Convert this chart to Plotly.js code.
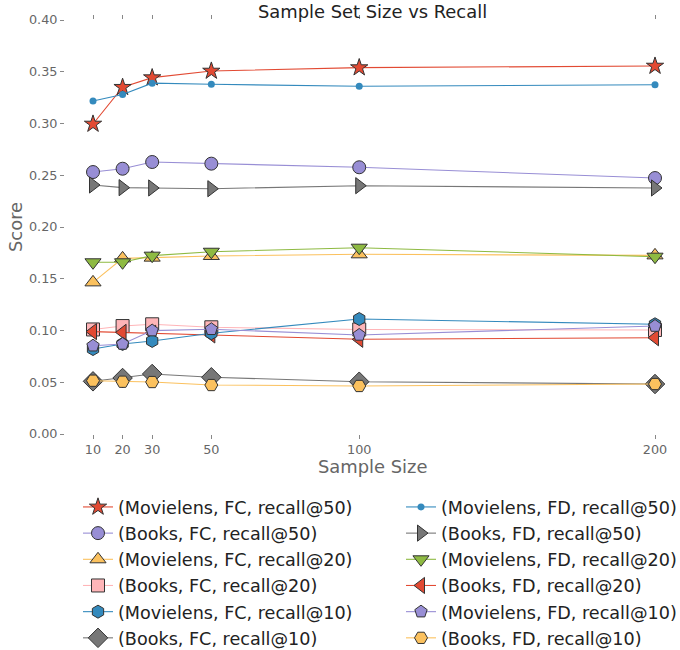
<!DOCTYPE html>
<html><head><meta charset="utf-8">
<script src="https://cdn.plot.ly/plotly-3.0.1.min.js"></script>
<style>body{margin:0;padding:0;background:#fff}#chart{width:680px;height:650px}</style>
</head><body><div id="chart"></div>
<script>
const sampleSizes = [10, 20, 30, 50, 100, 200];
const xTickVals = [10, 20, 30, 50, 100, 200];
const yTickVals = [0, 0.05, 0.10, 0.15, 0.20, 0.25, 0.30, 0.35, 0.40];

const movielensFC50 = [0.2995, 0.335, 0.3443, 0.3507, 0.354, 0.3555];
const movielensFD50 = [0.3217, 0.328, 0.339, 0.3379, 0.336, 0.3375];
const booksFC50 = [0.2531, 0.2563, 0.2628, 0.2612, 0.2577, 0.2473];
const booksFD50 = [0.2406, 0.238, 0.2377, 0.237, 0.2399, 0.2377];
const movielensFC20 = [0.1465, 0.1697, 0.1704, 0.172, 0.1736, 0.1726];
const movielensFD20 = [0.1659, 0.1659, 0.1723, 0.1761, 0.180, 0.1713];
const booksFC20 = [0.101, 0.1043, 0.106, 0.1031, 0.101, 0.1005];
const booksFD20 = [0.0989, 0.0982, 0.0973, 0.0957, 0.0915, 0.093];
const movielensFC10 = [0.0821, 0.087, 0.0899, 0.0973, 0.1111, 0.106];
const movielensFD10 = [0.0853, 0.087, 0.0999, 0.1012, 0.0957, 0.1043];
const booksFC10 = [0.0509, 0.0541, 0.058, 0.0548, 0.0505, 0.0483];
const booksFD10 = [0.0515, 0.0505, 0.0502, 0.0473, 0.0464, 0.0483];

const seriesNames = [
  '(Movielens, FC, recall@50)', '(Movielens, FD, recall@50)',
  '(Books, FC, recall@50)', '(Books, FD, recall@50)',
  '(Movielens, FC, recall@20)', '(Movielens, FD, recall@20)',
  '(Books, FC, recall@20)', '(Books, FD, recall@20)',
  '(Movielens, FC, recall@10)', '(Movielens, FD, recall@10)',
  '(Books, FC, recall@10)', '(Books, FD, recall@10)'
];
const seriesValues = [movielensFC50, movielensFD50, booksFC50, booksFD50,
  movielensFC20, movielensFD20, booksFC20, booksFD20,
  movielensFC10, movielensFD10, booksFC10, booksFD10];

const styles = [
  {c:'#E24A33', s:'star', z:13, edge:true},
  {c:'#348ABD', s:'circle', z:7, edge:false},
  {c:'#988ED5', s:'circle', z:13, edge:true},
  {c:'#777777', s:'triangle-right', z:14, edge:true},
  {c:'#FBC15E', s:'triangle-up', z:14, edge:true},
  {c:'#8EBA42', s:'triangle-down', z:14, edge:true},
  {c:'#FFB5B8', s:'square', z:13, edge:true},
  {c:'#E24A33', s:'triangle-left', z:14, edge:true},
  {c:'#348ABD', s:'hexagon', z:13, edge:true},
  {c:'#988ED5', s:'pentagon', z:13, edge:true},
  {c:'#777777', s:'diamond', z:15, edge:true},
  {c:'#FBC15E', s:'hexagon2', z:13, edge:true}
];

const traces = seriesValues.map((vals, i) => ({
  type: 'scatter', mode: 'lines+markers',
  x: sampleSizes, y: vals, name: seriesNames[i],
  legend: (i % 2 === 0) ? 'legend' : 'legend2',
  legendgroup: 'g' + i,
  line: {color: styles[i].c, width: 1.1},
  marker: {symbol: styles[i].s, size: styles[i].z, color: styles[i].c,
    line: {color: styles[i].edge ? '#333' : styles[i].c, width: styles[i].edge ? 1 : 0}},
  cliponaxis: false
}));

const font = 'DejaVu Sans, sans-serif';
const legendCommon = {
  orientation: 'v', xref: 'container', yref: 'container', yanchor: 'top', xanchor: 'left',
  font: {family: font, size: 17.6, color: '#222'}, bgcolor: 'rgba(0,0,0,0)',
  tracegroupgap: 0.3, itemwidth: 30
};

const layout = {
  width: 680, height: 650,
  margin: {l: 65, r: 0, t: 20, b: 216, autoexpand: false},
  paper_bgcolor: '#fff', plot_bgcolor: '#fff',
  title: {text: 'Sample Set Size vs Recall', x: 0.5, xref: 'paper', y: 0.982, yref: 'container', yanchor: 'middle',
    font: {family: font, size: 17.9, color: '#222'}},
  xaxis: {range: [0.53, 208.45], tickvals: xTickVals, ticktext: xTickVals.map(String),
    ticks: 'outside', ticklen: 4, tickcolor: '#888', tickwidth: 1, mirror: 'ticks',
    showgrid: false, zeroline: false, showline: false, tickangle: 0,
    tickfont: {family: font, size: 12.8, color: '#666'}},
  yaxis: {range: [0, 0.40], tickvals: yTickVals, tickformat: '.2f',
    ticks: 'outside', ticklen: 4, tickcolor: '#888', tickwidth: 1,
    showgrid: false, zeroline: false, showline: false,
    tickfont: {family: font, size: 12.8, color: '#666'}},
  annotations: [
    {text: 'Sample Size', xref: 'paper', x: 0.5, yref: 'paper', y: (434 - 467) / 414,
     xanchor: 'center', yanchor: 'middle', showarrow: false,
     font: {family: font, size: 17.9, color: '#666'}},
    {text: 'Score', xref: 'paper', x: (15 - 65) / 615, yref: 'paper', y: 0.5,
     xanchor: 'center', yanchor: 'middle', showarrow: false, textangle: -90,
     font: {family: font, size: 17.9, color: '#666'}}
  ],
  legend: Object.assign({}, legendCommon, {x: 78/680, y: 1 - 489/650}),
  legend2: Object.assign({}, legendCommon, {x: 401/680, y: 1 - 489/650}),
  showlegend: true
};

Plotly.newPlot('chart', traces, layout, {displayModeBar: false, staticPlot: true});
</script></body></html>
